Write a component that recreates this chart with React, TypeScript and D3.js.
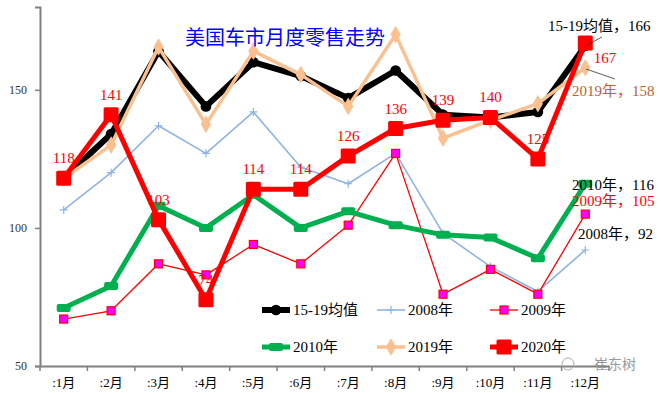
import React, { useEffect, useRef } from 'react';
import * as d3 from 'd3';

const months = [':1月', ':2月', ':3月', ':4月', ':5月', ':6月', ':7月', ':8月', ':9月', ':10月', ':11月', ':12月'];
const avg1519 = [118, 134, 164, 144, 160, 155, 147, 157, 141, 140, 142, 166];
const y2008 = [106.5, 120, 137, 127, 142, 122, 116, 127, 98, 86, 77, 92];
const y2009 = [67, 70, 87, 83, 94, 87, 101, 127, 76, 85, 76, 105];
const y2010 = [71, 79, 108, 100, 112, 100, 106, 101, 97.5, 96.5, 89, 116];
const y2019 = [118, 130, 165.5, 137.5, 164, 155.5, 144, 170, 132.5, 139, 145, 158];
const y2020 = [118, 141, 103, 74, 114, 114, 126, 136, 139, 140, 125, 167];
const yTicks = [50, 100, 150];

const SERIF = '"Liberation Serif", "DejaVu Serif", "Noto Sans CJK SC", serif';

const series = [
  { name: '15-19均值', data: avg1519, color: '#000000', width: 6, marker: 'circle' },
  { name: '2008年', data: y2008, color: '#8eb4e3', width: 1.6, marker: 'plus' },
  { name: '2009年', data: y2009, color: '#ff0000', width: 1.3, marker: 'pinkSquare' },
  { name: '2010年', data: y2010, color: '#00b050', width: 5, marker: 'dash' },
  { name: '2019年', data: y2019, color: '#fac090', width: 3.5, marker: 'diamond' },
  { name: '2020年', data: y2020, color: '#ff0000', width: 5, marker: 'bigSquare' },
];

function drawMarker(g: any, kind: string, color: string) {
  if (kind === 'circle') {
    g.append('path').attr('d', d3.symbol().type(d3.symbolCircle).size(90)()).attr('fill', color);
  } else if (kind === 'plus') {
    g.append('path').attr('d', 'M-4,0H4M0,-4V4').attr('stroke', color).attr('stroke-width', 1.2);
  } else if (kind === 'pinkSquare') {
    g.append('rect').attr('x', -4).attr('y', -4).attr('width', 8).attr('height', 8)
      .attr('fill', '#ff00ff').attr('stroke', color).attr('stroke-width', 1.2);
  } else if (kind === 'dash') {
    g.append('rect').attr('x', -7).attr('y', -4).attr('width', 14).attr('height', 8).attr('rx', 2).attr('fill', color);
  } else if (kind === 'diamond') {
    g.append('path').attr('d', d3.symbol().type(d3.symbolDiamond).size(90)()).attr('fill', color);
  } else if (kind === 'bigSquare') {
    g.append('rect').attr('x', -7.5).attr('y', -7.5).attr('width', 15).attr('height', 15).attr('rx', 1.5).attr('fill', color);
  }
}

function Chart() {
  const ref = useRef<SVGSVGElement>(null);

  useEffect(() => {
    const svg = d3.select(ref.current);
    svg.selectAll('*').remove();

    const x = d3.scaleBand().domain(months).range([40, 609]);
    const y = d3.scaleLinear().domain([50, 180]).range([366, 7]);
    const cx = (i: number) => (x(months[i]) as number) + x.bandwidth() / 2;

    // axes
    const yAxis = svg.append('g').attr('transform', 'translate(40,0)')
      .call(d3.axisLeft(y).tickValues(yTicks).tickSize(5).tickPadding(8));
    yAxis.select('.domain').attr('stroke', '#808080').attr('stroke-width', 2);
    yAxis.selectAll('.tick line').attr('stroke', '#808080').attr('stroke-width', 1.5);
    yAxis.selectAll('.tick text').attr('font-family', SERIF).attr('font-size', 12).attr('fill', '#333');

    const xAxis = svg.append('g').attr('transform', 'translate(0,366)')
      .call(d3.axisBottom(x).tickSize(0).tickPadding(12));
    xAxis.select('.domain').attr('stroke', '#808080').attr('stroke-width', 2);
    xAxis.selectAll('.tick text').attr('font-family', SERIF).attr('font-size', 13).attr('fill', '#000');
    xAxis.selectAll('.sep').data(d3.range(13)).enter().append('line')
      .attr('x1', (d: number) => 40 + d * x.bandwidth()).attr('x2', (d: number) => 40 + d * x.bandwidth())
      .attr('y1', 0).attr('y2', 5).attr('stroke', '#808080').attr('stroke-width', 1.5);

    // lines
    const line = d3.line<number>().x((_, i) => cx(i)).y((d) => y(d));
    series.forEach((s) => {
      svg.append('path').datum(s.data).attr('d', line).attr('fill', 'none')
        .attr('stroke', s.color).attr('stroke-width', s.width).attr('stroke-linejoin', 'round');
      s.data.forEach((v, i) => {
        const g = svg.append('g').attr('transform', `translate(${cx(i)},${y(v)})`);
        drawMarker(g, s.marker, s.color);
      });
    });

    // 2020 labels
    y2020.slice(0, 11).forEach((v, i) => {
      svg.append('text').attr('x', cx(i)).attr('y', y(v) - 15).attr('text-anchor', 'middle')
        .attr('font-family', SERIF).attr('font-size', 15).attr('fill', '#ff0000').text(String(v));
    });
    svg.append('text').attr('x', 605).attr('y', 63).attr('text-anchor', 'middle')
      .attr('font-family', SERIF).attr('font-size', 15).attr('fill', '#ff0000').text(String(y2020[11]));

    // end annotations
    const ann = (txt: string, xx: number, yy: number, color: string) =>
      svg.append('text').attr('x', xx).attr('y', yy).attr('font-family', SERIF)
        .attr('font-size', 15).attr('fill', color).text(txt);
    ann(`15-19均值，${avg1519[11]}`, 548, 31, '#000');
    ann(`2019年，${y2019[11]}`, 572, 96, '#c0622a');
    ann(`2010年，${y2010[11]}`, 572, 190, '#000');
    ann(`2009年，${y2009[11]}`, 572, 206, '#ff0000');
    ann(`2008年，${y2008[11]}`, 578, 239, '#000');
    svg.append('line').attr('x1', 587).attr('y1', 45).attr('x2', 602).attr('y2', 37).attr('stroke', '#333').attr('stroke-width', 0.8);
    svg.append('line').attr('x1', 586).attr('y1', 69).attr('x2', 615).attr('y2', 79).attr('stroke', '#333').attr('stroke-width', 0.8);

    // title
    svg.append('text').attr('x', 185).attr('y', 45).attr('font-family', '"Noto Sans CJK SC", sans-serif')
      .attr('font-size', 20).attr('fill', '#0000ff').text('美国车市月度零售走势');

    // legend
    const legPos = [[262, 310], [377, 310], [490, 310], [262, 347], [377, 347], [490, 347]];
    series.forEach((s, i) => {
      const [lx, ly] = legPos[i];
      const g = svg.append('g').attr('transform', `translate(${lx},${ly})`);
      g.append('line').attr('x1', 0).attr('x2', 28).attr('stroke', s.color).attr('stroke-width', s.width);
      drawMarker(g.append('g').attr('transform', 'translate(14,0)'), s.marker, s.color);
      g.append('text').attr('x', 31).attr('y', 5).attr('font-family', SERIF).attr('font-size', 15).attr('fill', '#000').text(s.name);
    });

    // watermark
    svg.append('circle').attr('cx', 568).attr('cy', 364).attr('r', 6).attr('fill', 'none').attr('stroke', '#aaa');
    svg.append('text').attr('x', 594).attr('y', 369).attr('font-family', '"Noto Sans CJK SC", sans-serif')
      .attr('font-size', 14).attr('fill', '#999').text('崔东树');
  }, []);

  return <svg ref={ref} width={661} height={393} style={{ position: 'absolute', left: 0, top: 0, background: '#fff' }} />;
}

export default function App() {
  return <Chart />;
}
